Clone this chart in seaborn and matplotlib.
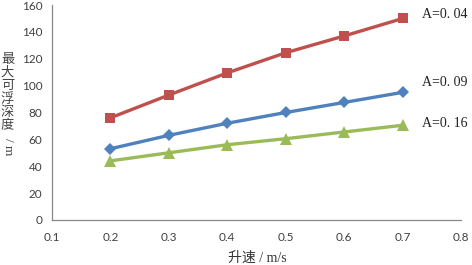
import matplotlib
matplotlib.use("Agg")
import matplotlib.pyplot as plt
import seaborn as sns
import pandas as pd

speed = [0.2, 0.3, 0.4, 0.5, 0.6, 0.7]
depth_a004 = [76, 93, 109.5, 124.5, 137, 150]
depth_a009 = [53, 63, 72, 80, 87.5, 95]
depth_a016 = [44, 50, 56, 60.5, 65.5, 70.5]
series_names = ["A=0.04", "A=0.09", "A=0.16"]
label_text = ["A=0. 04", "A=0. 09", "A=0. 16"]
ylabel_chars = ["最", "大", "可", "浮", "深", "度"]

df = pd.DataFrame({
    "speed": speed * 3,
    "depth": depth_a004 + depth_a009 + depth_a016,
    "A": [n for n in series_names for _ in speed],
})

sns.set_style("white")
plt.rcParams["font.family"] = ["Lato", "Noto Sans CJK SC", "DejaVu Sans"]

colors = {"A=0.04": "#C0504D", "A=0.09": "#4F81BD", "A=0.16": "#9BBB59"}
markers = {"A=0.04": "s", "A=0.09": "D", "A=0.16": "^"}
msize = {"A=0.04": 6.5, "A=0.09": 6, "A=0.16": 8}
label_dy = {"A=0.04": 3, "A=0.09": 7, "A=0.16": 1}

fig = plt.figure(figsize=(4.72, 2.65), dpi=100)
ax = fig.add_axes([0.110, 0.170, 0.867, 0.811])

for name in series_names:
    sns.lineplot(data=df[df["A"] == name], x="speed", y="depth", ax=ax,
                 color=colors[name], marker=markers[name], markersize=msize[name],
                 markeredgewidth=0, linewidth=2.4, legend=False)

ax.set_xlim(0.1, 0.8)
ax.set_ylim(0, 160)
ax.set_xticks([0.1, 0.2, 0.3, 0.4, 0.5, 0.6, 0.7, 0.8])
ax.set_yticks(range(0, 161, 20))
ax.set_xticklabels([f"{v:.1f}" for v in ax.get_xticks()])
ax.tick_params(axis="both", labelsize=8.5, colors="#404040", length=3, width=0.8,
               direction="out", pad=4)
ax.tick_params(axis="x", pad=6)
for side in ["top", "right"]:
    ax.spines[side].set_visible(False)
for side in ["left", "bottom"]:
    ax.spines[side].set_color("#888888")
    ax.spines[side].set_linewidth(0.9)
ax.set_xlabel("")
ax.set_ylabel("")

# series labels to the right of the lines
for name, txt, vals in zip(series_names, label_text, [depth_a004, depth_a009, depth_a016]):
    ax.annotate(txt, xy=(speed[-1], vals[-1]), xytext=(14, label_dy[name]),
                textcoords="offset points", fontsize=10,
                family=["Liberation Serif", "Noto Sans CJK SC"],
                color="#222222", va="center", ha="left", annotation_clip=False)

# axis titles
fig.text(0.545, 0.027, "升速 / m/s", ha="center", va="center", fontsize=10,
         family=["Liberation Serif", "Noto Sans CJK SC"], color="#333333")
H = 265.0
for i, ch in enumerate(ylabel_chars):
    fig.text(0.016, 1 - (59 + 13.4 * i) / H, ch, ha="center", va="center",
             fontsize=9.5, family=["Noto Sans CJK SC"], color="#444444")
fig.text(0.016, 1 - 147 / H, "/ m", ha="center", va="center", fontsize=9.5,
         rotation=270, family=["Liberation Serif", "Noto Sans CJK SC"], color="#444444")

fig.savefig("out.png", dpi=100)
